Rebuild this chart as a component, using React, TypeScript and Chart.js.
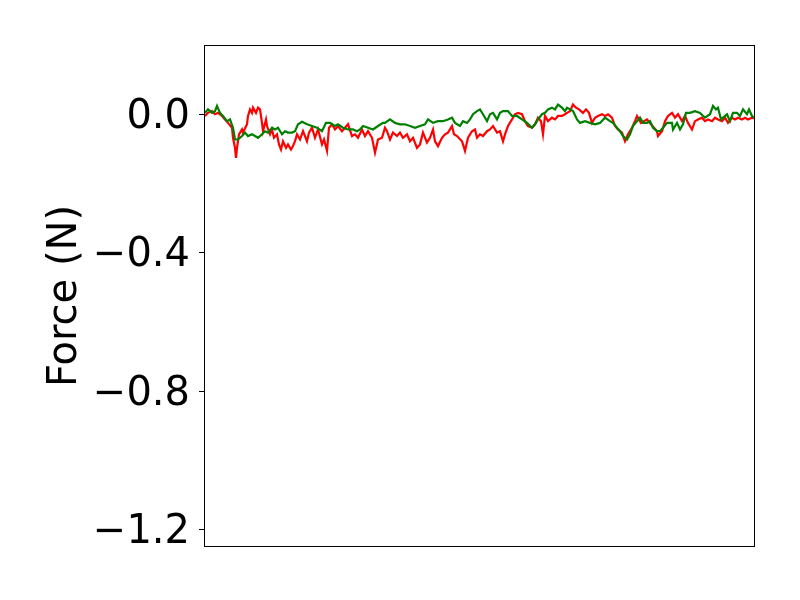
import React, { useEffect, useRef } from "react";
import { Chart, registerables } from "chart.js";

Chart.register(...registerables);

const redX = [1, 4, 8, 11, 14, 18, 21, 24, 28, 29, 31, 32, 33, 35, 38, 39, 43, 44, 46, 48, 49, 52, 54, 56, 58, 59, 62, 63, 66, 68, 70, 73, 75, 77, 79, 82, 84, 87, 89, 91, 93, 96, 99, 103, 105, 108, 111, 114, 118, 120, 123, 125, 128, 131, 134, 138, 141, 144, 148, 151, 154, 158, 161, 164, 168, 171, 174, 178, 181, 183, 186, 189, 193, 196, 199, 203, 206, 209, 213, 216, 219, 223, 226, 229, 231, 234, 238, 241, 244, 248, 250, 253, 258, 261, 264, 268, 271, 273, 276, 279, 283, 286, 289, 293, 296, 299, 301, 304, 308, 311, 314, 318, 321, 324, 328, 331, 334, 337, 339, 341, 344, 348, 351, 354, 358, 361, 363, 366, 369, 372, 375, 379, 382, 385, 388, 391, 394, 398, 401, 404, 408, 411, 414, 418, 421, 424, 428, 431, 433, 437, 440, 443, 447, 450, 453, 454, 458, 461, 464, 468, 471, 474, 478, 481, 484, 488, 491, 494, 498, 501, 504, 508, 511, 514, 518, 521, 524, 528, 531, 534, 538, 541, 544, 548, 550];
const redY = [-0.005, 0.004, 0.009, 0.0, 0.004, -0.005, -0.015, -0.025, -0.039, -0.068, -0.097, -0.126, -0.097, -0.058, -0.044, -0.053, -0.029, -0.005, 0.014, 0.004, 0.019, 0.004, 0.019, 0.014, -0.025, -0.049, -0.015, -0.034, -0.058, -0.044, -0.068, -0.058, -0.087, -0.102, -0.078, -0.097, -0.087, -0.102, -0.092, -0.078, -0.058, -0.073, -0.049, -0.078, -0.053, -0.039, -0.068, -0.044, -0.087, -0.073, -0.106, -0.039, -0.029, -0.044, -0.034, -0.049, -0.039, -0.029, -0.063, -0.058, -0.068, -0.044, -0.063, -0.049, -0.068, -0.111, -0.073, -0.068, -0.039, -0.049, -0.073, -0.053, -0.063, -0.053, -0.068, -0.058, -0.078, -0.068, -0.097, -0.087, -0.053, -0.082, -0.068, -0.044, -0.078, -0.092, -0.068, -0.058, -0.053, -0.034, -0.058, -0.063, -0.078, -0.106, -0.068, -0.049, -0.044, -0.068, -0.058, -0.063, -0.049, -0.044, -0.034, -0.053, -0.049, -0.078, -0.058, -0.034, -0.015, 0.0, 0.004, 0.0, -0.02, -0.034, -0.039, -0.029, -0.01, -0.02, -0.058, -0.005, -0.02, -0.01, -0.015, -0.005, -0.005, 0.0, 0.004, 0.009, 0.028, 0.019, 0.014, 0.004, 0.014, 0.004, -0.025, -0.01, -0.005, 0.0, -0.005, 0.0, -0.01, -0.034, -0.044, -0.053, -0.078, -0.058, -0.039, -0.02, -0.005, -0.025, -0.02, -0.015, -0.029, -0.039, -0.049, -0.063, -0.049, -0.02, -0.005, 0.004, -0.01, 0.0, -0.02, -0.005, -0.025, -0.044, -0.02, -0.015, -0.01, -0.02, -0.015, -0.02, -0.01, -0.015, -0.02, -0.01, -0.025, -0.01, -0.015, -0.01, -0.015, -0.01, -0.015, -0.01, -0.012];

const greenX = [1, 4, 8, 11, 13, 16, 19, 23, 26, 29, 31, 34, 38, 41, 44, 48, 51, 54, 58, 61, 64, 68, 71, 74, 78, 81, 84, 88, 91, 94, 98, 103, 108, 113, 118, 122, 126, 131, 134, 139, 144, 149, 153, 156, 159, 164, 169, 174, 179, 181, 186, 191, 196, 201, 206, 211, 216, 221, 224, 229, 234, 239, 244, 248, 251, 256, 259, 263, 266, 269, 273, 276, 279, 283, 286, 289, 293, 296, 299, 304, 308, 313, 318, 323, 328, 331, 334, 338, 341, 344, 348, 351, 354, 358, 361, 363, 366, 369, 373, 376, 381, 386, 391, 396, 401, 406, 409, 413, 416, 419, 423, 426, 429, 433, 436, 439, 443, 446, 449, 453, 456, 459, 463, 468, 469, 473, 476, 479, 482, 486, 491, 496, 501, 506, 509, 512, 514, 517, 519, 523, 526, 529, 533, 536, 539, 543, 545, 548, 550];
const greenY = [0.004, 0.014, 0.004, 0.009, 0.024, 0.004, -0.005, -0.02, -0.015, -0.039, -0.073, -0.073, -0.063, -0.053, -0.063, -0.058, -0.063, -0.068, -0.058, -0.049, -0.053, -0.039, -0.044, -0.039, -0.058, -0.049, -0.053, -0.053, -0.049, -0.029, -0.022, -0.029, -0.034, -0.039, -0.049, -0.025, -0.025, -0.034, -0.029, -0.039, -0.044, -0.044, -0.049, -0.044, -0.034, -0.039, -0.044, -0.034, -0.025, -0.025, -0.015, -0.025, -0.029, -0.029, -0.034, -0.039, -0.034, -0.029, -0.015, -0.025, -0.02, -0.02, -0.015, -0.01, -0.025, -0.034, -0.02, -0.025, -0.015, 0.0, 0.009, 0.014, 0.0, -0.02, 0.0, 0.004, -0.015, 0.004, 0.009, 0.009, -0.005, -0.005, -0.015, -0.025, -0.039, -0.029, -0.015, 0.0, 0.004, 0.014, 0.019, 0.014, 0.028, 0.019, 0.009, 0.019, 0.014, 0.009, -0.015, -0.025, -0.02, -0.025, -0.029, -0.025, -0.01, -0.02, -0.025, -0.039, -0.049, -0.063, -0.073, -0.058, -0.034, -0.02, -0.01, -0.025, -0.025, -0.02, -0.039, -0.049, -0.049, -0.039, -0.025, -0.025, -0.044, -0.025, -0.044, -0.029, 0.004, 0.004, 0.009, 0.004, -0.01, 0.0, 0.024, 0.014, 0.019, -0.015, -0.01, 0.0, -0.02, 0.004, 0.004, -0.005, 0.014, 0.0, 0.014, -0.005, -0.01];

const yTicks = [-1.2, -0.8, -0.4, 0.0];
const yLabel = "Force (N)";

const toPts = (xs: number[], ys: number[]) => xs.map((x, i) => ({ x, y: ys[i] }));

const frame = {
  id: "frame",
  afterDraw(chart: any) {
    const { ctx, chartArea: a } = chart;
    ctx.save();
    ctx.strokeStyle = "#000";
    ctx.lineWidth = 1;
    ctx.strokeRect(a.left + 0.5, a.top + 0.5, a.right - a.left - 1, a.bottom - a.top - 1);
    ctx.restore();
  },
};

export default function App() {
  const ref = useRef<HTMLCanvasElement>(null);
  useEffect(() => {
    document.body.style.margin = "0";
    const chart = new Chart(ref.current!, {
      type: "line",
      data: {
        datasets: [
          {
            label: "green",
            data: toPts(greenX, greenY),
            borderColor: "#008000",
            borderWidth: 2.2,
            pointRadius: 0,
            tension: 0,
          },
          {
            label: "red",
            data: toPts(redX, redY),
            borderColor: "#ff0000",
            borderWidth: 2.2,
            pointRadius: 0,
            tension: 0,
          },
        ],
      },
      options: {
        animation: false,
        responsive: false,
        layout: { padding: { left: 38, top: 45, right: 45, bottom: 53 } },
        plugins: { legend: { display: false }, tooltip: { enabled: false } },
        scales: {
          x: { type: "linear", min: 0, max: 551, display: false },
          y: {
            min: -1.25,
            max: 0.2,
            afterBuildTicks: (s: any) => {
              s.ticks = yTicks.map((v) => ({ value: v }));
            },
            afterFit: (s: any) => {
              s.width = 166;
            },
            border: { display: false },
            grid: { drawOnChartArea: false, tickLength: 5, tickColor: "#000", tickWidth: 1 },
            ticks: {
              padding: 9,
              labelOffset: 3,
              color: "#000",
              font: { family: "DejaVu Sans", size: 40 },
              callback: (v: any) => Number(v).toFixed(1).replace("-", "\u2212"),
            },
            title: {
              display: true,
              text: yLabel,
              color: "#000",
              font: { family: "DejaVu Sans", size: 40 },
              padding: { top: 4, bottom: 4 },
            },
          },
        },
      },
      plugins: [frame],
    });
    return () => chart.destroy();
  }, []);
  return (
    <div style={{ position: "absolute", left: 0, top: 0, width: 800, height: 600 }}>
      <canvas ref={ref} width={800} height={600} style={{ width: 800, height: 600 }} />
    </div>
  );
}
